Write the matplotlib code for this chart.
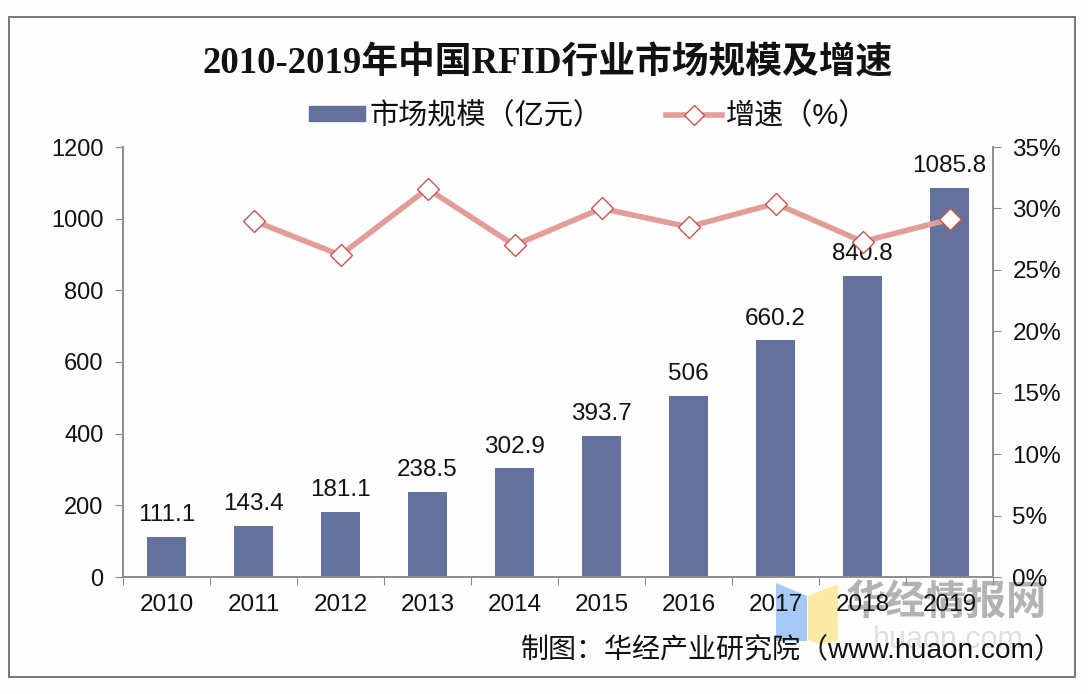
#!/usr/bin/env python3
import matplotlib
matplotlib.use("Agg")
import matplotlib.pyplot as plt
from matplotlib.lines import Line2D
from matplotlib.patches import Polygon, Rectangle
from matplotlib.ticker import FuncFormatter

plt.rcParams['font.family'] = ['Liberation Sans', 'Noto Sans CJK SC']

# ── Data ──────────────────────────────────────────────────────────────────────

years = ["2010", "2011", "2012", "2013", "2014", "2015", "2016", "2017", "2018", "2019"]
market_size = [111.1, 143.4, 181.1, 238.5, 302.9, 393.7, 506, 660.2, 840.8, 1085.8]
size_labels = ["111.1", "143.4", "181.1", "238.5", "302.9", "393.7", "506", "660.2", "840.8", "1085.8"]
growth_years = years[1:]
growth_rate = [29.0, 26.2, 31.6, 27.0, 30.0, 28.5, 30.4, 27.3, 29.1]

title = "2010-2019年中国RFID行业市场规模及增速"
source = "制图：华经产业研究院（www.huaon.com）"

# ── Figure ────────────────────────────────────────────────────────────────────

W, H = 1088, 694
BAR = "#64719C"
LINE = "#E29D98"
AXIS = "#8C8C8C"
TEXT = "#111111"

fig = plt.figure(figsize=(W / 100, H / 100), dpi=100, facecolor="#FEFEFE")
ax = fig.add_axes([123 / W, 1 - 577 / H, 870 / W, 430 / H])
ax.patch.set_alpha(0)

xs = list(range(len(years)))
ax.bar(xs, market_size, width=0.44, color=BAR, zorder=2)
for x, v, lab in zip(xs, market_size, size_labels):
    ax.text(x, v + 30, lab, ha="center", va="bottom", fontsize=17.5, color=TEXT, zorder=3)

ax.set_xlim(-0.5, 9.5)
ax.set_ylim(0, 1200)
ax.set_yticks(range(0, 1201, 200))
ax.set_xticks([x - 0.5 for x in range(11)])
ax.set_xticklabels([])
ax.set_xticks(xs, years, minor=True)
ax.tick_params(axis="x", which="minor", length=0, pad=12, labelsize=17.5, labelcolor=TEXT)
ax.tick_params(axis="x", which="major", direction="out", length=6, color=AXIS)
ax.tick_params(axis="y", direction="out", length=6, color=AXIS, pad=8, labelsize=17, labelcolor=TEXT)

ax2 = ax.twinx()
ax2.patch.set_alpha(0)
ax2.plot(xs[1:], growth_rate, color=LINE, lw=4, marker="D", ms=11,
         mfc="white", mec="#C9534C", mew=1, zorder=5)
ax2.set_ylim(0, 35)
ax2.set_yticks(range(0, 36, 5))
ax2.yaxis.set_major_formatter(FuncFormatter(lambda v, _: f"{v:.0f}%"))
ax2.tick_params(axis="y", direction="out", length=6, color=AXIS, pad=8, labelsize=17.5, labelcolor=TEXT)

for a in (ax, ax2):
    a.spines["top"].set_visible(False)
    for s in ("left", "right", "bottom"):
        a.spines[s].set_color(AXIS)
        a.spines[s].set_linewidth(1.2)

# ── Title and legend ──────────────────────────────────────────────────────────

fig.text(548 / W, 1 - 64 / H, title, ha="center", va="center", fontsize=26.5,
         fontweight="bold", family=["Liberation Serif", "Noto Sans CJK SC"], color=TEXT)

handles = [
    Rectangle((0, 0), 1, 1, color=BAR),
    Line2D([0], [0], color=LINE, lw=4, marker="D", ms=10, mfc="white", mec="#C9534C", mew=1),
]
fig.legend(handles, ["市场规模（亿元）", "增速（%）"], loc="center", ncol=2,
           bbox_to_anchor=(589 / W, 1 - 116 / H), frameon=False, fontsize=21,
           handlelength=1.9, handleheight=0.45, columnspacing=2.2, handletextpad=0.15,
           labelcolor=TEXT)

# ── Source note, frame and watermark ──────────────────────────────────────────

def px(points):
    return [(x / W, 1 - y / H) for x, y in points]

# negative zorder keeps the watermark under the axes, labels stay readable on it
fig.add_artist(Polygon(px([(776, 583), (807, 596), (807, 641), (776, 641)]),
                       transform=fig.transFigure, fc="#A5C8F5", ec="none", zorder=-2))
fig.add_artist(Polygon(px([(808, 596), (838, 584), (838, 640), (822, 645), (808, 640)]),
                       transform=fig.transFigure, fc="#FBEBA5", ec="none", zorder=-2))
fig.text(946 / W, 1 - 603 / H, "华经情报网", ha="center", va="center", fontsize=29,
         fontweight="bold", color="#9A9A9A", alpha=0.75, zorder=-1)
fig.text(948 / W, 1 - 640 / H, "huaon.com", ha="center", va="center", fontsize=22,
         color="#CCCCCC", alpha=0.6, zorder=-1)
fig.text(792 / W, 1 - 650 / H, source, ha="center", va="center", fontsize=20.2,
         color=TEXT, zorder=7)

fig.add_artist(Rectangle((9 / W, 1 - 677 / H), 1066 / W, 660 / H, transform=fig.transFigure,
                         fc="none", ec="#777777", lw=1.4))

fig.savefig("out.png", dpi=100, facecolor=fig.get_facecolor())
plt.close(fig)
